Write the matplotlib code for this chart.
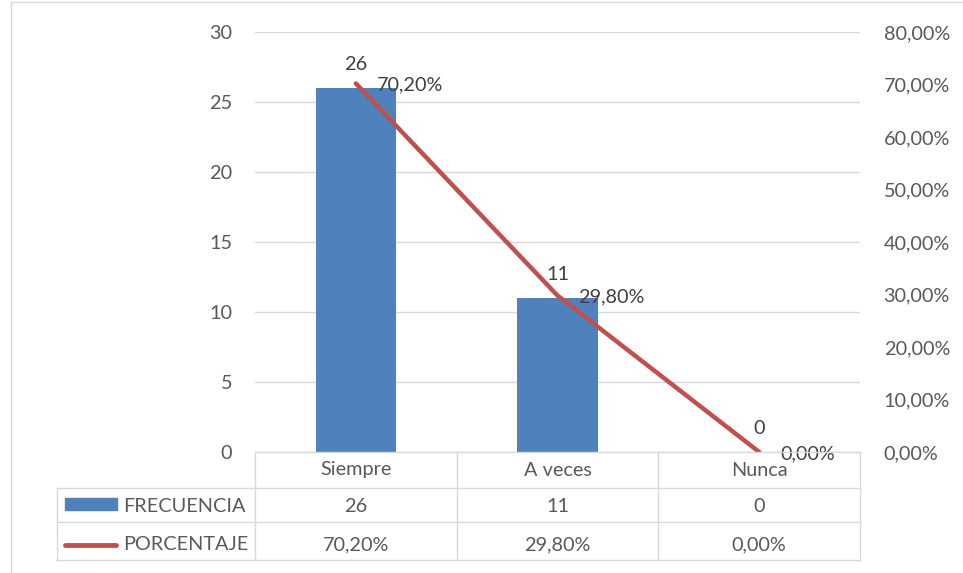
import matplotlib
matplotlib.use("Agg")
import matplotlib.pyplot as plt
from matplotlib.transforms import blended_transform_factory
from matplotlib.lines import Line2D
from matplotlib.patches import Rectangle

categories = ["Siempre", "A veces", "Nunca"]
frecuencia = [26, 11, 0]
porcentaje = [70.20, 29.80, 0.00]
freq_ticks = [0, 5, 10, 15, 20, 25, 30]
pct_ticks = [0, 10, 20, 30, 40, 50, 60, 70, 80]

BLUE = "#4F81BD"
RED = "#C0504D"
GRID = "#D9D9D9"
TXT = "#595959"
W, H = 963, 573

plt.rcParams["font.family"] = ["Lato", "DejaVu Sans"]
FS = 14.3


def fx(x):
    return x / W


def fy(y):
    return 1 - y / H


def pct(v):
    return ("%.2f%%" % v).replace(".", ",")


fig = plt.figure(figsize=(W / 100, H / 100), dpi=100)
ax = fig.add_axes([fx(255), fy(452), (860 - 255) / W, (452 - 32) / H])
ax2 = ax.twinx()

xs = list(range(len(categories)))
ax.bar(xs, frecuencia, width=0.4, color=BLUE, zorder=2)
ax.set_xlim(-0.5, len(categories) - 0.5)
ax.set_ylim(0, 30)
ax.set_yticks(freq_ticks)
ax.set_xticks([])
ax.grid(axis="y", color=GRID, lw=1, zorder=0)
ax.set_axisbelow(True)
ax.tick_params(axis="y", length=0, pad=16.5, labelsize=FS, labelcolor=TXT)
for s in ax.spines.values():
    s.set_visible(False)

ax2.plot(xs, porcentaje, color=RED, lw=3.2, solid_capstyle="round", zorder=3)
ax2.set_ylim(0, 80)
ax2.set_yticks(pct_ticks)
ax2.set_yticklabels([pct(v) for v in pct_ticks])
ax2.tick_params(axis="y", length=0, pad=17, labelsize=FS, labelcolor=TXT)
for s in ax2.spines.values():
    s.set_visible(False)

# data labels
for x, f, p in zip(xs, frecuencia, porcentaje):
    ax.annotate(str(f), (x, f), xytext=(0, 11), textcoords="offset points",
                ha="center", va="bottom", fontsize=FS, color="#404040")
    ax2.annotate(pct(p), (x, p), xytext=(15, -1), textcoords="offset points",
                 ha="left", va="center", fontsize=FS, color="#404040")

# data table
tr = blended_transform_factory(ax.transData, fig.transFigure)
bounds = [x - 0.5 for x in xs] + [xs[-1] + 0.5]
rows_y = [452, 488, 522, 560]


def hline(x0, x1, y, transform):
    fig.add_artist(Line2D([x0, x1], [fy(y), fy(y)], color=GRID, lw=1, transform=transform))


for b in bounds:
    fig.add_artist(Line2D([b, b], [fy(452), fy(560)], color=GRID, lw=1, transform=tr))
hline(bounds[0], bounds[-1], 452, tr)
for y in rows_y[1:]:
    hline(fx(57), fx(255), y, fig.transFigure)
    hline(bounds[0], bounds[-1], y, tr)
fig.add_artist(Line2D([fx(57), fx(57)], [fy(488), fy(560)], color=GRID, lw=1))

for x, c, f, p in zip(xs, categories, frecuencia, porcentaje):
    fig.text(x, fy(470), c, transform=tr, ha="center", va="center", fontsize=FS, color=TXT)
    fig.text(x, fy(506), str(f), transform=tr, ha="center", va="center", fontsize=FS, color=TXT)
    fig.text(x, fy(545), pct(p), transform=tr, ha="center", va="center", fontsize=FS, color=TXT)

# legend keys in table
fig.add_artist(Rectangle((fx(65), fy(510)), (117 - 65) / W, 12 / H, color=BLUE))
fig.add_artist(Line2D([fx(65), fx(116)], [fy(545), fy(545)], color=RED, lw=3.5,
                      solid_capstyle="round"))
fig.text(fx(123), fy(506), "FRECUENCIA", ha="left", va="center", fontsize=FS, color=TXT)
fig.text(fx(123), fy(545), "PORCENTAJE", ha="left", va="center", fontsize=FS, color=TXT)

# chart border
fig.add_artist(Line2D([fx(11), fx(11)], [fy(2), 0], color=GRID, lw=1))
fig.add_artist(Line2D([fx(11), 1], [fy(2), fy(2)], color=GRID, lw=1))

fig.savefig("out.png", dpi=100)
